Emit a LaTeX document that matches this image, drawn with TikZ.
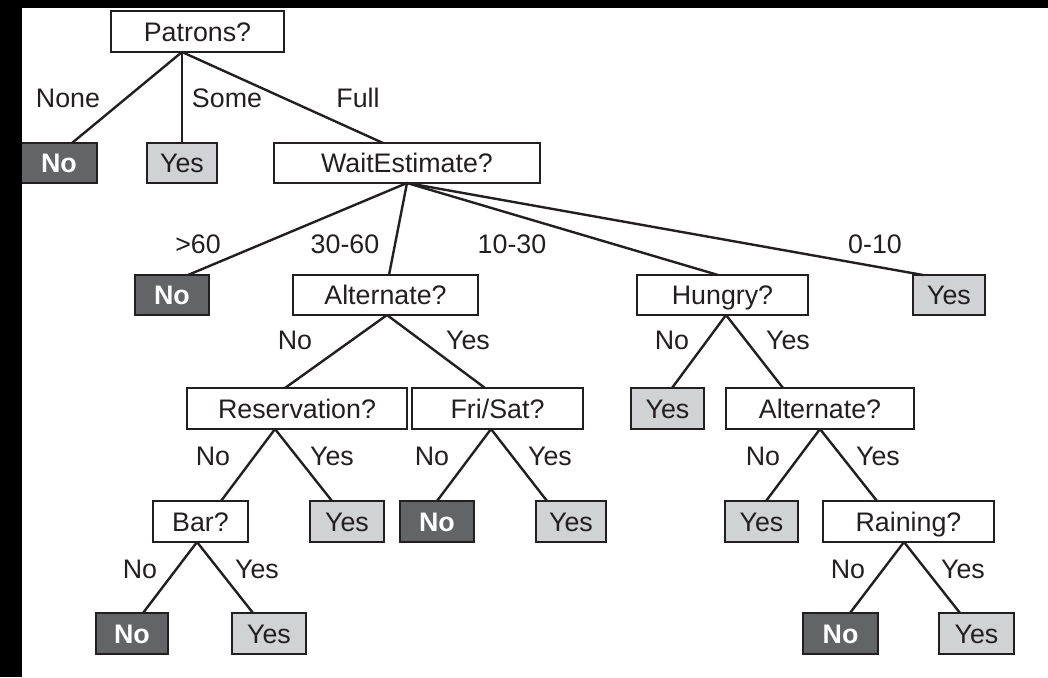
\documentclass[tikz,border=0pt]{standalone}
\usepackage{fontspec}
\setmainfont{Liberation Sans}
\usetikzlibrary{calc}
\definecolor{ink}{HTML}{231F20}
\definecolor{leafno}{HTML}{636466}
\definecolor{leafyes}{HTML}{D1D2D4}
\tikzset{
  box/.style={draw=ink, line width=2.6pt, fill=white, inner sep=0pt, outer sep=0pt,
    text=ink, font=\fontsize{26.8}{30}\selectfont, text height=19.2pt, text depth=0pt},
  testbox/.style={box},
  nobox/.style={box, fill=leafno, text=white, font=\fontsize{26.8}{30}\selectfont\bfseries},
  yesbox/.style={box, fill=leafyes},
  edge/.style={draw=ink, line width=2.4pt},
  lbl/.style={text=ink, font=\fontsize{26.8}{30}\selectfont, inner sep=0pt, anchor=base}
}
% \branch{parent}{x offset at parent}{child}{x offset at child}
\newcommand{\branch}[4]{\draw[edge] ($(#1.south)+(#2,0)$) -- ($(#3.north)+(#4,0)$);}
\begin{document}
\begin{tikzpicture}[x=1pt, y=-1pt]
\useasboundingbox (0,0) rectangle (1048,677);
\fill[white] (0,0) rectangle (1048,677);

% level 1
\node[testbox, minimum width=173pt, minimum height=41pt] (patrons) at (197.5,31.5) {Patrons?};
% level 2
\node[nobox, minimum width=76pt, minimum height=40pt] (noNone) at (59,163) {No};
\node[yesbox, minimum width=70pt, minimum height=40pt] (yesSome) at (182,163) {Yes};
\node[testbox, minimum width=266pt, minimum height=40pt] (wait) at (407,163) {WaitEstimate?};
% level 3
\node[nobox, minimum width=74pt, minimum height=40pt] (noSixty) at (172,295) {No};
\node[testbox, minimum width=185pt, minimum height=40pt] (altA) at (385.5,295) {Alternate?};
\node[testbox, minimum width=171pt, minimum height=40pt] (hungry) at (722.5,295) {Hungry?};
\node[yesbox, minimum width=72pt, minimum height=40pt] (yesTen) at (949,295) {Yes};
% level 4
\node[testbox, minimum width=220pt, minimum height=41pt] (reserv) at (297,408.5) {Reservation?};
\node[testbox, minimum width=171pt, minimum height=41pt] (frisat) at (497.5,408.5) {Fri/Sat?};
\node[yesbox, minimum width=73pt, minimum height=41pt] (yesHungry) at (667.5,408.5) {Yes};
\node[testbox, minimum width=188pt, minimum height=41pt] (altB) at (820,408.5) {Alternate?};
% level 5
\node[testbox, minimum width=95pt, minimum height=41pt] (bar) at (200.5,521.5) {Bar?};
\node[yesbox, minimum width=74pt, minimum height=41pt] (yesRes) at (347,521.5) {Yes};
\node[nobox, minimum width=74pt, minimum height=41pt] (noFri) at (437,521.5) {No};
\node[yesbox, minimum width=70pt, minimum height=41pt] (yesFri) at (571,521.5) {Yes};
\node[yesbox, minimum width=73pt, minimum height=41pt] (yesAlt) at (761.5,521.5) {Yes};
\node[testbox, minimum width=171pt, minimum height=41pt] (rain) at (908.5,521.5) {Raining?};
% level 6
\node[nobox, minimum width=72pt, minimum height=41pt] (noBar) at (132,633.5) {No};
\node[yesbox, minimum width=74pt, minimum height=41pt] (yesBar) at (269,633.5) {Yes};
\node[nobox, minimum width=75pt, minimum height=41pt] (noRain) at (840.5,633.5) {No};
\node[yesbox, minimum width=75pt, minimum height=41pt] (yesRain) at (976.5,633.5) {Yes};

% branches
\branch{patrons}{-15.5}{noNone}{13}
\branch{patrons}{-15.5}{yesSome}{0}
\branch{patrons}{-15.5}{wait}{-24}
\branch{wait}{0}{noSixty}{16}
\branch{wait}{0}{altA}{3.5}
\branch{wait}{0}{hungry}{-4.5}
\branch{wait}{0}{yesTen}{-26}
\branch{altA}{1.5}{reserv}{-12}
\branch{altA}{1.5}{frisat}{-12.5}
\branch{hungry}{3.5}{yesHungry}{4.5}
\branch{hungry}{3.5}{altB}{-37}
\branch{reserv}{-22}{bar}{20.5}
\branch{reserv}{-22}{yesRes}{-15}
\branch{frisat}{-6.5}{noFri}{0}
\branch{frisat}{-6.5}{yesFri}{-24}
\branch{altB}{0}{yesAlt}{4.5}
\branch{altB}{0}{rain}{-31.5}
\branch{bar}{-3.5}{noBar}{11}
\branch{bar}{-3.5}{yesBar}{-16}
\branch{rain}{-4.5}{noRain}{9.5}
\branch{rain}{-4.5}{yesRain}{-16.5}

% branch labels
\node[lbl] (lNone) at (68,107) {None};
\node[lbl] (lSome) at (227,107) {Some};
\node[lbl] (lFull) at (358,107) {Full};
\node[lbl] (lSixty) at (198,253) {>60};
\node[lbl] (lThirty) at (345,253) {30-60};
\node[lbl] (lTen) at (512,253) {10-30};
\node[lbl] (lZero) at (875,253) {0-10};
\node[lbl] (lAaNo) at (295,349) {No};
\node[lbl] (lAaYes) at (468,349) {Yes};
\node[lbl] (lHuNo) at (672,349) {No};
\node[lbl] (lHuYes) at (788,349) {Yes};
\node[lbl] (lReNo) at (213,465) {No};
\node[lbl] (lReYes) at (332,465) {Yes};
\node[lbl] (lFrNo) at (432,465) {No};
\node[lbl] (lFrYes) at (550,465) {Yes};
\node[lbl] (lAbNo) at (763,465) {No};
\node[lbl] (lAbYes) at (878,465) {Yes};
\node[lbl] (lBaNo) at (140,578) {No};
\node[lbl] (lBaYes) at (257,578) {Yes};
\node[lbl] (lRaNo) at (848,578) {No};
\node[lbl] (lRaYes) at (963,578) {Yes};

% dark page edges
\fill[black] (0,0) rectangle (22,677);
\fill[black] (0,0) rectangle (1048,8);
\end{tikzpicture}
\end{document}
